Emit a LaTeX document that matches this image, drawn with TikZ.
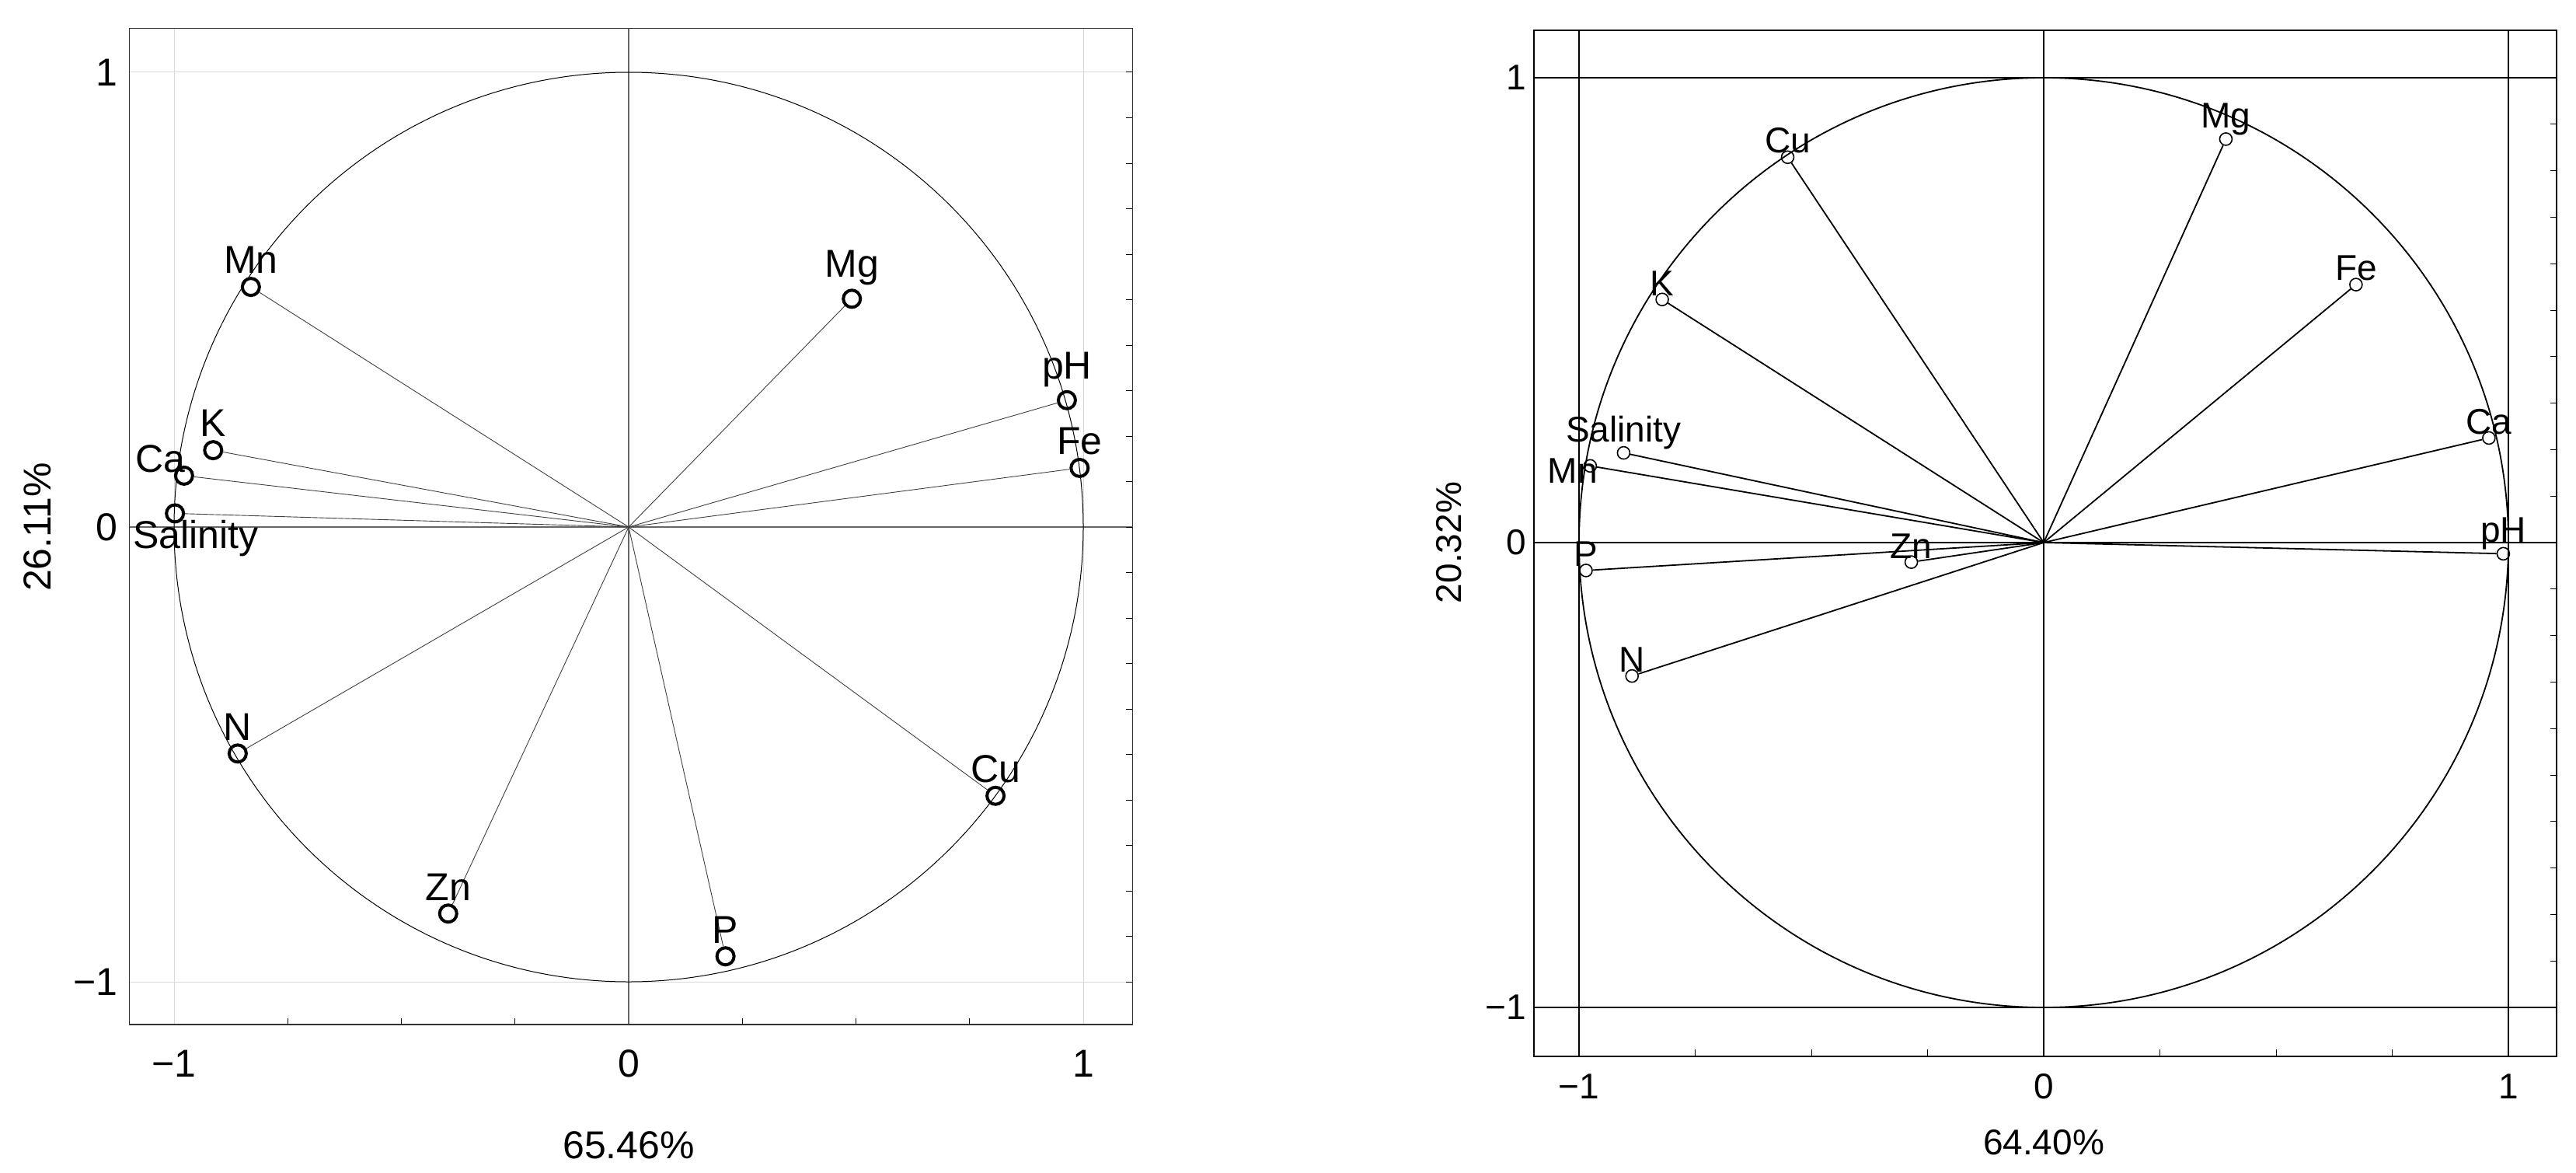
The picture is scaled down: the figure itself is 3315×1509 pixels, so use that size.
\documentclass[tikz,border=0pt]{standalone}
\usepackage{fontspec}
\setmainfont{Liberation Sans}
\begin{document}
\begin{tikzpicture}[x=1pt,y=-1pt,
  lbl/.style={font=\fontsize{50}{54}\selectfont, inner sep=2pt},
  rlbl/.style={font=\fontsize{46}{50}\selectfont, inner sep=2pt},
  ptA/.style={circle,draw,line width=4pt,minimum size=22pt,inner sep=0pt},
  ptB/.style={circle,draw,line width=1.6pt,minimum size=16pt,inner sep=0pt},
  vecA/.style={line width=0.9pt, draw=black!75},
  vecB/.style={line width=1.8pt}]
\useasboundingbox (0,0) rectangle (3315,1509);
\fill[white] (0,0) rectangle (3315,1509);
% ---------- left plot ----------
\begin{scope}[shift={(809pt,-678pt)},x=585pt,y=585pt]
  \foreach \v in {-1,1} {
    \draw[black!15,line width=1pt] (\v,-1.094) -- (\v,1.096);
    \draw[black!15,line width=1pt] (-1.098,\v) -- (1.108,\v);}
  \draw[black!60,line width=1.2pt] (0,-1.094) -- (0,1.096);
  \draw[black!60,line width=1.2pt] (-1.098,0) -- (1.108,0);
  \draw[black!80,line width=1.2pt] (-1.098,-1.094) rectangle (1.108,1.096);
  \foreach \t in {-10,...,10} \draw[line width=1pt] (1.108,\t/10) -- ++(-0.014,0);
  \foreach \t in {-0.75,-0.5,-0.25,0.25,0.5,0.75} \draw[line width=1pt] (\t,-1.094) -- ++(0,0.014);
  \draw[line width=1pt] (0,0) circle (1);
  \coordinate (oA) at (0,0);
  \node[lbl,anchor=east] (ya1) at (-1.12,1) {1};
  \node[lbl,anchor=east] (ya0) at (-1.12,0) {0};
  \node[lbl,anchor=east] (yam) at (-1.12,-1) {−1};
  \node[lbl] (xam) at (-1,-1.18) {−1};
  \node[lbl] (xa0) at (0,-1.18) {0};
  \node[lbl] (xa1) at (1,-1.18) {1};
  \node[lbl] (xt) at (0,-1.36) {65.46\%};
  \node[lbl,rotate=90] (yt) at (-1.30,0) {26.11\%};
  \foreach \n/\x/\y in {Mn/-0.831/0.528, Mg/0.491/0.502, pH/0.964/0.279,
     Fe/0.992/0.130, K/-0.914/0.169, N/-0.860/-0.498,
     Zn/-0.397/-0.850, P/0.213/-0.944, Cu/0.807/-0.591} {
    \node[ptA] (A\n) at (\x,\y) {};
    \draw[vecA] (oA) -- (A\n);
    \node[lbl,above=4pt,inner sep=0pt] (LA\n) at (A\n.north) {\n};
  }
  \node[ptA] (ACa) at (-0.978,0.113) {};
  \draw[vecA] (oA) -- (ACa);
  \node[lbl,anchor=south east,inner sep=0pt] (LACa) at (-0.975,0.12) {Ca};
  \node[ptA] (ASal) at (-0.998,0.030) {};
  \draw[vecA] (oA) -- (ASal);
  \node[lbl,anchor=north west,inner sep=0pt] (LASal) at (-1.09,0.015) {Salinity};
\end{scope}
% ---------- right plot ----------
\begin{scope}[shift={(2630pt,-698pt)},x=598pt,y=598pt]
  \draw[line width=1.8pt] (-1.097,-1.105) rectangle (1.104,1.102);
  \foreach \v in {-1,1} {
    \draw[line width=1.8pt] (\v,-1.105) -- (\v,1.102);
    \draw[line width=1.8pt] (-1.097,\v) -- (1.104,\v);}
  \draw[line width=1.8pt] (0,-1.105) -- (0,1.102);
  \draw[line width=1.8pt] (-1.097,0) -- (1.104,0);
  \foreach \t in {-10,...,10} \draw[line width=1pt] (1.104,\t/10) -- ++(-0.014,0);
  \foreach \t in {-0.75,-0.5,-0.25,0.25,0.5,0.75} \draw[line width=1pt] (\t,-1.105) -- ++(0,0.014);
  \draw[line width=1.8pt] (0,0) circle (1);
  \coordinate (oB) at (0,0);
  \node[rlbl,anchor=east] (yb1) at (-1.11,1) {1};
  \node[rlbl,anchor=east] (yb0) at (-1.11,0) {0};
  \node[rlbl,anchor=east] (ybm) at (-1.11,-1) {−1};
  \node[rlbl] (xbm) at (-1,-1.17) {−1};
  \node[rlbl] (xb0) at (0,-1.17) {0};
  \node[rlbl] (xb1) at (1,-1.17) {1};
  \node[rlbl] (xtb) at (0,-1.29) {64.40\%};
  \node[rlbl,rotate=90] (ytb) at (-1.28,0) {20.32\%};
  \foreach \n/\x/\y in {Cu/-0.551/0.829, Mg/0.392/0.868, Fe/0.672/0.555,
     K/-0.821/0.523, Ca/0.958/0.225, Salinity/-0.904/0.193,
     P/-0.985/-0.060, Zn/-0.285/-0.042, N/-0.886/-0.287,
     pH/0.989/-0.024} {
    \node[ptB] (B\n) at (\x,\y) {};
    \draw[vecB] (oB) -- (B\n);
    \node[rlbl,above=-4pt,inner sep=0pt] (LB\n) at (B\n.north) {\n};
  }
  \node[ptB] (BMn) at (-0.976,0.165) {};
  \draw[vecB] (oB) -- (BMn);
  \node[rlbl,anchor=east,inner sep=0pt] (LBMn) at (-0.96,0.155) {Mn};
\end{scope}
\end{tikzpicture}
\end{document}
